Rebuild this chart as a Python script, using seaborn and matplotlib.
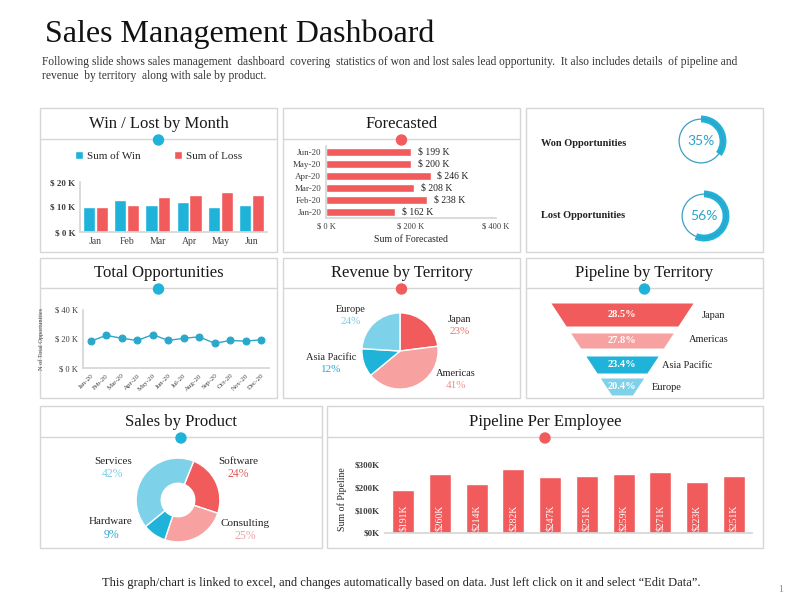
import pandas as pd
import matplotlib
matplotlib.use('Agg')
import matplotlib.pyplot as plt
from matplotlib.patches import Rectangle, Circle
import seaborn as sns

# ---------------- data ----------------
months = ['Jan', 'Feb', 'Mar', 'Apr', 'May', 'Jun']
win_k = [10, 13, 11, 12, 10, 11]
loss_k = [10, 11, 14, 15, 16, 15]

forecast_months = ['Jan-20', 'Feb-20', 'Mar-20', 'Apr-20', 'May-20', 'Jun-20']
forecast_k = [162, 238, 208, 246, 200, 199]

won_pct = 35
lost_pct = 56

opp_months = ['Jan-20', 'Feb-20', 'Mar-20', 'Apr-20', 'May-20', 'Jun-20',
              'Jul-20', 'Aug-20', 'Sep-20', 'Oct-20', 'Nov-20', 'Dec-20']
opp_k = [18.5, 22.5, 20.5, 19, 23, 19, 20.5, 21.5, 17, 19, 18.5, 19.5]

territories = ['Japan', 'Americas', 'Asia Pacific', 'Europe']
revenue_pct = [23, 41, 12, 24]
pipeline_pct = [28.5, 27.8, 23.4, 20.4]

products = ['Software', 'Consulting', 'Hardware', 'Services']
product_pct = [24, 25, 9, 42]

employee_ids = list(range(1, 11))
pipeline_emp_k = [191, 260, 214, 282, 247, 251, 259, 271, 223, 251]

# ---------------- style ----------------
BLUE = '#1fb3d9'
RED = '#f15b5b'
LRED = '#f7a1a1'
LBLUE = '#7dd1e9'
TXT = '#262626'
TICK = '#404040'
GRAY = '#d6d6d6'

sns.set_theme(style='white')
plt.rcParams['font.family'] = ['Liberation Serif', 'DejaVu Serif']
plt.rcParams['text.color'] = TXT

W, H = 800, 600
fig = plt.figure(figsize=(8, 6), dpi=100)
fig.patch.set_facecolor('white')

# background layer in pixel coordinates
bg = fig.add_axes([0, 0, 1, 1])
bg.set_xlim(0, W)
bg.set_ylim(H, 0)
bg.axis('off')


def add_px_axes(x0, y0, x1, y1):
    ax = fig.add_axes([x0 / W, 1 - y1 / H, (x1 - x0) / W, (y1 - y0) / H])
    ax.set_facecolor('none')
    return ax


def panel(x0, y0, x1, y1, title=None, title_y=None, line_y=None, dot=None):
    bg.add_patch(Rectangle((x0, y0), x1 - x0, y1 - y0, fill=False, ec=GRAY, lw=1))
    if title:
        cx = (x0 + x1) / 2
        bg.text(cx, title_y, title, ha='center', va='center', fontsize=12, color='#1a1a1a')
        bg.plot([x0, x1], [line_y, line_y], color=GRAY, lw=1)
        bg.add_patch(Circle((cx, line_y + 1), 5, color=dot, zorder=5))


def light_axes(ax, left=True):
    for s in ['top', 'right']:
        ax.spines[s].set_visible(False)
    ax.spines['bottom'].set_color(GRAY)
    ax.spines['left'].set_color(GRAY)
    ax.spines['left'].set_visible(left)
    ax.tick_params(colors=TICK, length=0)
    ax.set_xlabel('')
    ax.set_ylabel('')


# header
bg.text(45, 34, 'Sales Management Dashboard', fontsize=23, va='center', ha='left', color='#111111')
bg.text(42, 62, 'Following slide shows sales management  dashboard  covering  statistics of won and lost sales lead opportunity.  It also includes details  of pipeline and',
        fontsize=8.3, va='center', ha='left', color='#333333')
bg.text(42, 76, 'revenue  by territory  along with sale by product.', fontsize=8.3, va='center', ha='left', color='#333333')
bg.text(401, 583, 'This graph/chart is linked to excel, and changes automatically based on data. Just left click on it and select \u201cEdit Data\u201d.',
        fontsize=9, ha='center', va='center', color='#222222')
bg.text(781, 590, '1', fontsize=7, ha='center', va='center', color='#888888')

# panels
panel(40, 108, 277, 252, 'Win / Lost by Month', 124, 139, BLUE)
panel(283, 108, 520, 252, 'Forecasted', 124, 139, RED)
panel(526, 108, 763, 252)
panel(40, 258, 277, 398, 'Total Opportunities', 273, 288, BLUE)
panel(283, 258, 520, 398, 'Revenue by Territory', 273, 288, RED)
panel(526, 258, 763, 398, 'Pipeline by Territory', 273, 288, BLUE)
panel(40, 406, 322, 548, 'Sales by Product', 422, 437, BLUE)
panel(327, 406, 763, 548, 'Pipeline Per Employee', 422, 437, RED)

# ---- Win / Lost by Month ----
ax = add_px_axes(80, 182, 267, 232)
wl = pd.DataFrame({'Month': months * 2,
                   'Value': win_k + loss_k,
                   'Series': ['Sum of Win'] * len(months) + ['Sum of Loss'] * len(months)})
sns.barplot(data=wl, x='Month', y='Value', hue='Series', palette=[BLUE, RED],
            width=0.82, gap=0.05, saturation=1, ax=ax)
ax.set_ylim(0, 20)
ax.set_yticks([0, 10, 20])
ax.set_yticklabels([f'$ {v} K' for v in [0, 10, 20]], fontsize=6.5, fontweight='bold')
ax.tick_params(axis='x', labelsize=7)
light_axes(ax)
ax.legend(loc='center', bbox_to_anchor=(0.42, 1.52), ncol=2, frameon=False, fontsize=8,
          handlelength=0.7, handleheight=0.7, handletextpad=0.4, columnspacing=3)

# ---- Forecasted ----
ax = add_px_axes(326, 146, 496, 218)
sns.barplot(x=forecast_k, y=forecast_months, order=forecast_months[::-1], orient='h',
            color=RED, width=0.6, saturation=1, ax=ax)
ax.set_xlim(0, 400)
ax.set_xticks([0, 200, 400])
ax.set_xticklabels([f'$ {v} K' for v in [0, 200, 400]], fontsize=6)
ax.tick_params(axis='y', labelsize=6.5)
light_axes(ax)
ax.set_xlabel('Sum of Forecasted', fontsize=7, color=TXT, labelpad=3)
ax.bar_label(ax.containers[0], labels=[f'$ {v:.0f} K' for v in ax.containers[0].datavalues],
             padding=5, fontsize=7, color='#222222')

# ---- Won / Lost rings ----
bg.text(541, 144, 'Won Opportunities', fontsize=7.5, fontweight='bold', va='center', color='#222222')
bg.text(541, 216, 'Lost Opportunities', fontsize=7.5, fontweight='bold', va='center', color='#222222')
for (cx, cy), pct in [((701, 141), won_pct), ((704, 216), lost_pct)]:
    ax = add_px_axes(cx - 28, cy - 28, cx + 28, cy + 28)
    ax.pie([pct, 100 - pct], colors=[BLUE, (0, 0, 0, 0)], startangle=90, counterclock=False,
           wedgeprops=dict(width=0.27, lw=0))
    ax.add_patch(Circle((0, 0), 0.86, fill=False, ec='#3a9fc0', lw=0.9))
    ax.set_xlim(-1.1, 1.1)
    ax.set_ylim(-1.1, 1.1)
    ax.text(0, 0, f'{pct}%', ha='center', va='center', fontsize=10, color='#2aa3cc',
            family=['Lato', 'DejaVu Sans'])

# ---- Total Opportunities ----
ax = add_px_axes(83, 310, 269, 368)
sns.lineplot(x=opp_months, y=opp_k, marker='o', color='#2aa8cc', markersize=5,
             markeredgecolor='#2aa8cc', linewidth=1, sort=False, ax=ax)
ax.set_xlim(-0.5, 11.5)
ax.set_ylim(0, 40)
ax.set_yticks([0, 20, 40])
ax.set_yticklabels([f'$ {v} K' for v in [0, 20, 40]], fontsize=6)
ax.set_xticks(range(len(opp_months)))
ax.set_xticklabels(opp_months, rotation=45, ha='right', rotation_mode='anchor', fontsize=5)
light_axes(ax)
ax.set_ylabel('N of Total Opportunities', fontsize=4.5, color=TICK, labelpad=8)

# ---- Revenue by Territory ----
ax = add_px_axes(360, 311, 440, 391)
ax.pie(revenue_pct, colors=[RED, LRED, BLUE, LBLUE], startangle=90, counterclock=False,
       wedgeprops=dict(edgecolor='white', lw=1))
ax.set_xlim(-1.05, 1.05)
ax.set_ylim(-1.05, 1.05)
rev_pos = {'Japan': (460, 319), 'Americas': (456, 374), 'Asia Pacific': (331, 357), 'Europe': (351, 310)}
rev_col = {'Japan': '#e57373', 'Americas': '#f08f8f', 'Asia Pacific': '#2aa8cc', 'Europe': '#7dcde6'}
for name, pct in zip(territories, revenue_pct):
    x, y = rev_pos[name]
    bg.text(x, y, name, ha='center', va='center', fontsize=7.5, color='#222222')
    bg.text(x, y + 12, f'{pct}%', ha='center', va='center', fontsize=8, color=rev_col[name])

# ---- Pipeline by Territory (funnel) ----
ax = add_px_axes(547, 303, 697, 395)
ax.set_xlim(-75, 75)
ax.set_ylim(92, 0)
ax.axis('off')
seg_y = [(0, 23), (30, 45), (53, 70), (75, 92)]
funnel_col = [RED, LRED, BLUE, LBLUE]
lab_pos = [(702, 316), (689, 340), (662, 365), (652, 388)]
for (y0, y1), pct, col, name, (lx, ly) in zip(seg_y, pipeline_pct, funnel_col, territories, lab_pos):
    ys = [y0, y1]
    hw = [71 - 0.658 * y for y in ys]
    ax.fill_betweenx(ys, [-h for h in hw], hw, color=col, lw=0)
    ax.text(0, (y0 + y1) / 2, f'{pct}%', ha='center', va='center', fontsize=7.5,
            fontweight='bold', color='white')
    bg.text(lx, ly, name, ha='left', va='center', fontsize=7.5, color='#222222')

# ---- Sales by Product ----
ax = add_px_axes(134, 456, 222, 544)
ax.pie(product_pct, colors=[RED, LRED, BLUE, LBLUE], startangle=68, counterclock=False,
       wedgeprops=dict(width=0.6, edgecolor='white', lw=1))
ax.set_xlim(-1.05, 1.05)
ax.set_ylim(-1.05, 1.05)
prod_pos = {'Software': (238, 461), 'Consulting': (245, 523), 'Hardware': (111, 522), 'Services': (113, 461)}
prod_col = {'Software': '#e05c5c', 'Consulting': '#f2a0a0', 'Hardware': '#2aa8cc', 'Services': '#7dcde6'}
for name, pct in zip(products, product_pct):
    x, y = prod_pos[name]
    bg.text(x, y, name, ha='center', va='center', fontsize=8, color='#222222')
    bg.text(x, y + 13, f'{pct}%', ha='center', va='center', fontsize=8.5, color=prod_col[name])

# ---- Pipeline Per Employee ----
ax = add_px_axes(385, 465, 752, 533)
sns.barplot(x=employee_ids, y=pipeline_emp_k, color=RED, width=0.6, saturation=1, ax=ax)
ax.set_ylim(0, 300)
ax.set_yticks([0, 100, 200, 300])
ax.set_yticklabels([f'${v}K' for v in [0, 100, 200, 300]], fontsize=6.5, fontweight='bold')
ax.set_xticks([i - 0.5 for i in range(len(employee_ids) + 1)])
ax.set_xticklabels([])
light_axes(ax, left=False)
ax.tick_params(axis='x', length=3, color=GRAY)
ax.set_xlim(-0.5, len(employee_ids) - 0.5)
ax.set_ylabel('Sum of Pipeline', fontsize=7, color=TXT, labelpad=6)
for i, v in enumerate(pipeline_emp_k):
    ax.text(i, 8, f'${v}K', rotation=90, ha='center', va='bottom', fontsize=7, color='white')

fig.savefig('out.png', dpi=100, facecolor='white')
